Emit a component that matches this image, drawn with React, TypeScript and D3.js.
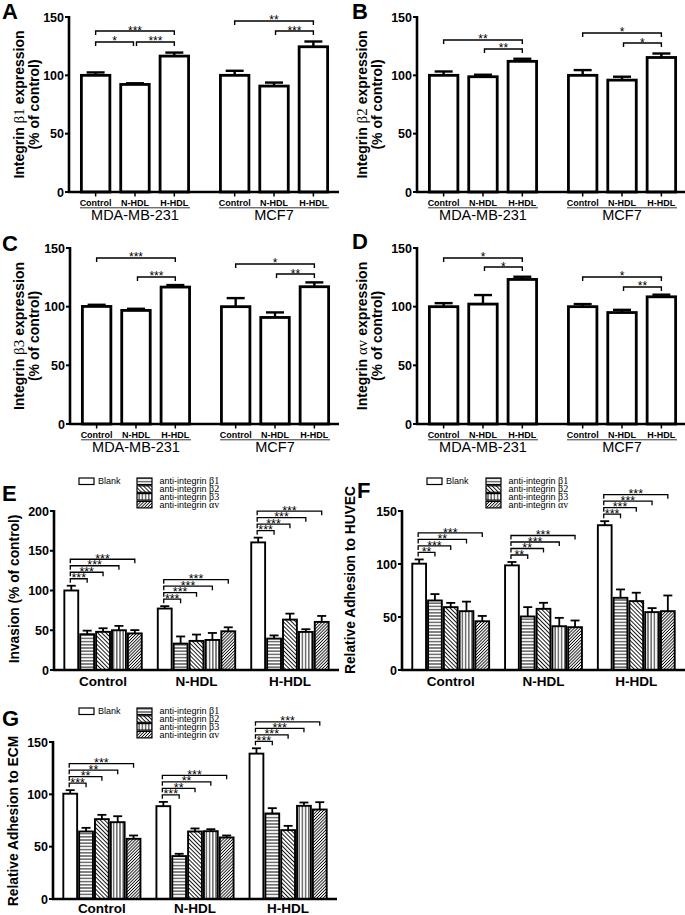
import React from 'react';
import * as d3 from 'd3';

const cellLines = ['MDA-MB-231', 'MCF7'];
const treatments = ['Control', 'N-HDL', 'H-HDL'];
const exprTicks = [0, 50, 100, 150];

const beta1Mean = [[100, 92.2, 116.5], [100, 90.8, 124.5]];
const beta1Err = [[2.5, 1, 3], [3.9, 3, 4.5]];
const beta2Mean = [[100, 98.8, 112], [100, 95.9, 115.3]];
const beta2Err = [[3.3, 1.7, 2.2], [4.5, 2.9, 3.4]];
const beta3Mean = [[100.2, 96.8, 116.7], [100, 90.8, 117]];
const beta3Err = [[1.4, 1.4, 1.7], [7.3, 4.3, 3.7]];
const alphavMean = [[100, 102.2, 123.2], [100, 95, 108.4]];
const alphavErr = [[3, 7.7, 2.3], [2.2, 2.3, 1.8]];

// [cell line, from, to, bracket level (data units), label]
const beta1Sig: [number, number, number, number, string][] = [[0, 0, 1, 128.6, '*'], [0, 1, 2, 128.6, '***'], [0, 0, 2, 138, '***'], [1, 0, 2, 146.6, '**'], [1, 1, 2, 138, '***']];
const beta2Sig: [number, number, number, number, string][] = [[0, 0, 2, 130.3, '**'], [0, 1, 2, 122.6, '**'], [1, 0, 2, 136.3, '*'], [1, 1, 2, 127.7, '*']];
const beta3Sig: [number, number, number, number, string][] = [[0, 0, 2, 141.5, '***'], [0, 1, 2, 125.3, '***'], [1, 0, 2, 136.4, '*'], [1, 1, 2, 127.8, '**']];
const alphavSig: [number, number, number, number, string][] = [[0, 0, 2, 141.5, '*'], [0, 1, 2, 133.8, '*'], [1, 0, 2, 125.3, '*'], [1, 1, 2, 116.8, '**']];

const conditions = ['Control', 'N-HDL', 'H-HDL'];
const antibodies = ['Blank', 'anti-integrin β1', 'anti-integrin β2', 'anti-integrin β3', 'anti-integrin αv'];
const invasionTicks = [0, 50, 100, 150, 200];
const adhesionTicks = [0, 50, 100, 150];

const invasionMean = [[100, 45, 48, 50, 46], [77.3, 33.2, 36.6, 37.8, 48.7], [160.5, 39.5, 63.4, 47.9, 60.5]];
const invasionErr = [[6, 4.5, 4.5, 5.5, 4.2], [3, 9, 8, 8.8, 5], [6, 4, 7.5, 3.4, 7.5]];
const invasionSig = [['***', '***', '***', '***'], ['***', '***', '***', '***'], ['***', '***', '***', '***']];

const huvecMean = [[100.3, 65.6, 59.3, 55.5, 46], [98.7, 50.5, 57.7, 41.3, 40.4], [136.6, 68.1, 65, 54.6, 55.5]];
const huvecErr = [[4, 6, 4, 9, 5], [3.2, 8.8, 5.7, 7.9, 6.3], [3.8, 7.9, 7.9, 3.8, 14.8]];
const huvecSig = [['**', '***', '**', '***'], ['**', '**', '***', '***'], ['***', '***', '***', '***']];

const ecmMean = [[100.6, 64.5, 76.3, 73.4, 57.5], [88.7, 41, 64.5, 64.8, 58.8], [138.9, 81.7, 65.8, 89, 85.5]];
const ecmErr = [[3.4, 3.5, 4.1, 5.7, 3.2], [4.1, 2.2, 2.9, 1.9, 1.9], [5.1, 5.1, 4.1, 3.2, 7]];
const ecmSig = [['***', '**', '**', '***'], ['***', '**', '**', '***'], ['***', '***', '***', '***']];

const FONT = 'Arial, "Liberation Sans", Helvetica, sans-serif';
const GREEK = '"Liberation Serif", "DejaVu Serif", serif';
const fills = ['#fff', 'url(#pH)', 'url(#pD1)', 'url(#pV)', 'url(#pD2)'];

function Letter({ x, y, t }: { x: number; y: number; t: string }) {
  return <text x={x} y={y} fontFamily={FONT} fontWeight="bold" fontSize={22}>{t}</text>;
}

function TopPanel(props: any) {
  const { letter, lx, ly, greek, labelXs, x0, xEnd, yB, yT, means, errs, sigs } = props;
  const y = d3.scaleLinear().domain([0, 150]).range([yB, yT]);
  const outer = d3.scaleBand().domain(cellLines).range([x0, x0 + 271]).paddingInner(0.209).paddingOuter(0.079);
  const inner = d3.scaleBand().domain(treatments).range([0, outer.bandwidth()]).paddingInner(0.205).paddingOuter(0);
  const bw = inner.bandwidth();
  const cx = (g: number, t: number) => (outer(cellLines[g]) as number) + (inner(treatments[t]) as number) + bw / 2;
  const cy = (yB + yT) / 2;
  return (
    <g>
      <Letter x={lx} y={ly} t={letter} />
      {[0, 1].map((i) => (
        <text key={i} x={labelXs[i]} y={cy} dy="0.35em" transform={`rotate(-90 ${labelXs[i]} ${cy})`}
          textAnchor="middle" fontFamily={FONT} fontWeight="bold" fontSize={14}>
          {i === 0 ? (<>Integrin <tspan fontFamily={GREEK} fontWeight="normal" fontSize={15}>{greek}</tspan> expression</>) : '(% of control)'}
        </text>
      ))}
      {exprTicks.map((t) => (
        <g key={t}>
          <line x1={x0 - 4} x2={x0} y1={y(t)} y2={y(t)} stroke="#000" strokeWidth={2} />
          <text x={x0 - 5} y={y(t)} dy="0.36em" textAnchor="end" fontFamily={FONT} fontWeight="bold" fontSize={12.5}>{t}</text>
        </g>
      ))}
      {cellLines.map((c, g) => (
        <g key={c}>
          {treatments.map((t, k) => {
            const m = means[g][k];
            const e = errs[g][k];
            const x = cx(g, k);
            return (
              <g key={t}>
                <rect x={x - bw / 2 + 1.4} y={y(m)} width={bw - 2.8} height={yB - y(m)} fill="#fff" stroke="#000" strokeWidth={2.8} />
                <line x1={x} x2={x} y1={y(m)} y2={y(m + e)} stroke="#000" strokeWidth={2.4} />
                <line x1={x - 9} x2={x + 9} y1={y(m + e)} y2={y(m + e)} stroke="#000" strokeWidth={2.4} />
                <line x1={x} x2={x} y1={yB} y2={yB + 4.5} stroke="#000" strokeWidth={1.5} />
                <text x={x} y={yB + 14} textAnchor="middle" fontFamily={FONT} fontWeight="bold" fontSize={9}>{t}</text>
              </g>
            );
          })}
          <line x1={outer(c) as number} x2={(outer(c) as number) + outer.bandwidth()} y1={yB + 15.8} y2={yB + 15.8} stroke="#000" strokeWidth={0.8} />
          <text x={(outer(c) as number) + outer.bandwidth() / 2} y={yB + 28} textAnchor="middle" fontFamily={FONT} fontSize={14.5}>{c}</text>
        </g>
      ))}
      {sigs.map((s: [number, number, number, number, string], i: number) => {
        const [g, a, b, lev, lab] = s;
        const xa = cx(g, a) + (a === 1 ? 1.5 : 0);
        const xb = cx(g, b) - (b === 1 ? 1.5 : 0);
        const yy = y(lev);
        return (
          <g key={i}>
            <path d={`M${xa},${yy + 4}V${yy}H${xb}V${yy + 4}`} fill="none" stroke="#000" strokeWidth={1.4} />
            <text x={(xa + xb) / 2} y={yy + 3.5} textAnchor="middle" fontFamily={FONT} fontSize={12}>{lab}</text>
          </g>
        );
      })}
      <line x1={x0} x2={x0} y1={yB + 1} y2={yT - 1} stroke="#000" strokeWidth={2.6} />
      <line x1={x0 - 1} x2={xEnd} y1={yB} y2={yB} stroke="#000" strokeWidth={2.6} />
    </g>
  );
}

function BottomPanel(props: any) {
  const { letter, lx, ly, yLabel, labelX, labelY, x0, xEnd, yB, yT, yMax, ticks, means, errs, sigs, leg1, leg2, legY, catDy } = props;
  const y = d3.scaleLinear().domain([0, yMax]).range([yB, yT]);
  const outer = d3.scaleBand().domain(conditions).range([x0, xEnd]).paddingInner(0.15).paddingOuter(0.1);
  const inner = d3.scaleBand().domain(antibodies).range([0, outer.bandwidth()]).padding(0);
  const bw = inner.bandwidth();
  const cx = (g: number, k: number) => (outer(conditions[g]) as number) + (inner(antibodies[k]) as number) + bw / 2;
  return (
    <g>
      <Letter x={lx} y={ly} t={letter} />
      <text x={labelX} y={labelY} dy="0.35em" transform={`rotate(-90 ${labelX} ${labelY})`} textAnchor="middle"
        fontFamily={FONT} fontWeight="bold" fontSize={13.8}>{yLabel}</text>
      {ticks.map((t: number) => (
        <g key={t}>
          <line x1={x0 - 4} x2={x0} y1={y(t)} y2={y(t)} stroke="#000" strokeWidth={2} />
          <text x={x0 - 5} y={y(t)} dy="0.36em" textAnchor="end" fontFamily={FONT} fontWeight="bold" fontSize={12.5}>{t}</text>
        </g>
      ))}
      {conditions.map((c, g) => (
        <g key={c}>
          {antibodies.map((a, k) => {
            const m = means[g][k];
            const e = errs[g][k];
            const x = cx(g, k);
            return (
              <g key={a}>
                <rect x={x - bw / 2 + 1} y={y(m)} width={bw - 2} height={yB - y(m)} fill={fills[k]} stroke="#000" strokeWidth={1.9} />
                <line x1={x} x2={x} y1={y(m)} y2={y(m + e)} stroke="#000" strokeWidth={1.8} />
                <line x1={x - 4.5} x2={x + 4.5} y1={y(m + e)} y2={y(m + e)} stroke="#000" strokeWidth={1.8} />
              </g>
            );
          })}
          {sigs[g].map((lab: string, i: number) => {
            const top = y(means[g][0] + errs[g][0]);
            const yy = top - 7 - i * 6.5;
            const xa = cx(g, 0) - 1;
            const xb = cx(g, i + 1);
            return (
              <g key={i}>
                <path d={`M${xa},${yy + 4}V${yy}H${xb}V${yy + 4}`} fill="none" stroke="#000" strokeWidth={1.3} />
                <text x={(xa + xb) / 2} y={yy + 3.6} textAnchor="middle" fontFamily={FONT} fontSize={12.5}>{lab}</text>
              </g>
            );
          })}
          <text x={(outer(c) as number) + outer.bandwidth() / 2} y={yB + catDy} textAnchor="middle" fontFamily={FONT} fontWeight="bold" fontSize={13.5}>{c}</text>
        </g>
      ))}
      <line x1={x0} x2={x0} y1={yB + 1} y2={yT - 1} stroke="#000" strokeWidth={2.6} />
      <line x1={x0 - 1} x2={xEnd} y1={yB} y2={yB} stroke="#000" strokeWidth={2.6} />
      <g>
        <rect x={leg1} y={legY - 3} width={15} height={6.5} fill="#fff" stroke="#000" strokeWidth={1.2} />
        <text x={leg1 + 19} y={legY + 3} fontFamily={FONT} fontSize={9}>{antibodies[0]}</text>
        {antibodies.slice(1).map((a, i) => {
          const parts = a.split(' ');
          return (
            <g key={a}>
              <rect x={leg2} y={legY - 3 + i * 7.8} width={15} height={6.5} fill={fills[i + 1]} stroke="#000" strokeWidth={1.2} />
              <text x={leg2 + 22.5} y={legY + 3.2 + i * 7.8} fontFamily={FONT} fontSize={9}>
                {parts[0]} <tspan fontFamily={GREEK} fontSize={10}>{parts[1]}</tspan>
              </text>
            </g>
          );
        })}
      </g>
    </g>
  );
}

export default function App() {
  return (
    <svg width={685} height={915} style={{ position: 'absolute', left: 0, top: 0, background: '#fff' }}>
      <defs>
        <pattern id="pH" width={4} height={3.2} patternUnits="userSpaceOnUse">
          <rect width={4} height={3.2} fill="#fff" />
          <line x1={0} x2={4} y1={1.6} y2={1.6} stroke="#000" strokeWidth={0.9} />
        </pattern>
        <pattern id="pV" width={3.2} height={4} patternUnits="userSpaceOnUse">
          <rect width={3.2} height={4} fill="#fff" />
          <line x1={1.6} x2={1.6} y1={0} y2={4} stroke="#000" strokeWidth={0.9} />
        </pattern>
        <pattern id="pD1" width={2.9} height={4} patternUnits="userSpaceOnUse" patternTransform="rotate(-45)">
          <rect width={2.9} height={4} fill="#fff" />
          <line x1={1.45} x2={1.45} y1={0} y2={4} stroke="#000" strokeWidth={0.9} />
        </pattern>
        <pattern id="pD2" width={2.2} height={4} patternUnits="userSpaceOnUse" patternTransform="rotate(45)">
          <rect width={2.2} height={4} fill="#fff" />
          <line x1={1.1} x2={1.1} y1={0} y2={4} stroke="#000" strokeWidth={0.85} />
        </pattern>
      </defs>
      <TopPanel letter="A" lx={2} ly={19} greek="β1" labelXs={[19, 34]} x0={69} xEnd={339} yB={192} yT={17}
        means={beta1Mean} errs={beta1Err} sigs={beta1Sig} />
      <TopPanel letter="B" lx={352} ly={19} greek="β2" labelXs={[362, 377]} x0={417} xEnd={685} yB={192} yT={17}
        means={beta2Mean} errs={beta2Err} sigs={beta2Sig} />
      <TopPanel letter="C" lx={2} ly={251} greek="β3" labelXs={[19, 34]} x0={70} xEnd={339} yB={424} yT={248}
        means={beta3Mean} errs={beta3Err} sigs={beta3Sig} />
      <TopPanel letter="D" lx={352} ly={249} greek="αv" labelXs={[362, 377]} x0={417} xEnd={685} yB={424} yT={248}
        means={alphavMean} errs={alphavErr} sigs={alphavSig} />
      <BottomPanel letter="E" lx={2} ly={501} yLabel="Invasion (% of control)" labelX={14} labelY={589}
        x0={54} xEnd={339} yB={670} yT={511} yMax={200} ticks={invasionTicks} catDy={16}
        means={invasionMean} errs={invasionErr} sigs={invasionSig} leg1={79} leg2={137} legY={481} />
      <BottomPanel letter="F" lx={357} ly={498} yLabel="Relative Adhesion to HUVEC" labelX={350} labelY={580}
        x0={402} xEnd={685} yB={670} yT={511} yMax={150} ticks={adhesionTicks} catDy={16}
        means={huvecMean} errs={huvecErr} sigs={huvecSig} leg1={427} leg2={486} legY={481} />
      <BottomPanel letter="G" lx={2} ly={726} yLabel="Relative Adhesion to ECM" labelX={13} labelY={821}
        x0={53} xEnd={337} yB={899} yT={742} yMax={150} ticks={adhesionTicks} catDy={13.5}
        means={ecmMean} errs={ecmErr} sigs={ecmSig} leg1={79} leg2={137} legY={711} />
    </svg>
  );
}
